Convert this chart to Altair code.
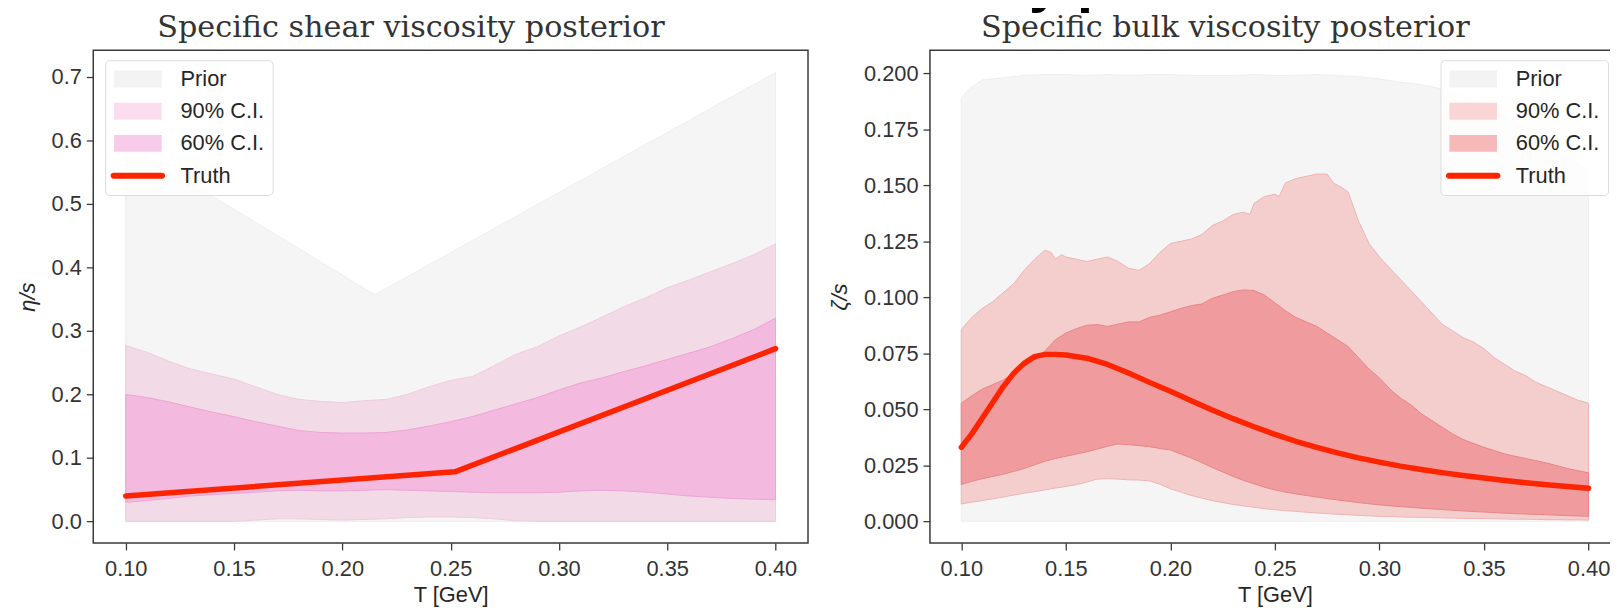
import altair as alt
import pandas as pd

# ---------------- data ----------------
LEG_LABELS = ["Prior", "90% C.I.", "60% C.I.", "Truth"]
SUPTITLE = "Viscosity posteriors"

# Left panel: specific shear viscosity
L_PRIOR_T = [0.10, 0.215, 0.40]
L_PRIOR_LO = [0.0, 0.0, 0.0]
L_PRIOR_HI = [0.595, 0.357, 0.707]

L_T = [0.10, 0.11, 0.12, 0.13, 0.14, 0.15, 0.16, 0.17, 0.18, 0.19, 0.20,
       0.21, 0.22, 0.23, 0.24, 0.25, 0.26, 0.27, 0.28, 0.29, 0.30,
       0.31, 0.32, 0.33, 0.34, 0.35, 0.36, 0.37, 0.38, 0.39, 0.40]
L90_HI = [0.277, 0.266, 0.252, 0.240, 0.232, 0.224, 0.212, 0.200, 0.192, 0.189, 0.187,
          0.190, 0.192, 0.200, 0.212, 0.222, 0.228, 0.245, 0.263, 0.275, 0.292,
          0.306, 0.322, 0.338, 0.352, 0.368, 0.380, 0.393, 0.406, 0.420, 0.437]
L90_LO = [0.0, 0.0, 0.0, 0.0, 0.0, 0.0, 0.002, 0.004, 0.004, 0.003, 0.002,
          0.003, 0.004, 0.006, 0.007, 0.007, 0.006, 0.004, 0.001, 0.0, 0.0,
          0.0, 0.0, 0.0, 0.0, 0.0, 0.0, 0.0, 0.0, 0.0, 0.0]
L60_HI = [0.200, 0.195, 0.188, 0.180, 0.172, 0.165, 0.157, 0.150, 0.143, 0.140, 0.139,
          0.139, 0.140, 0.144, 0.150, 0.157, 0.165, 0.175, 0.185, 0.195, 0.207,
          0.218, 0.226, 0.236, 0.245, 0.255, 0.265, 0.275, 0.288, 0.302, 0.320]
L60_LO = [0.030, 0.033, 0.036, 0.040, 0.042, 0.044, 0.046, 0.048, 0.049, 0.048, 0.048,
          0.049, 0.050, 0.049, 0.048, 0.047, 0.046, 0.045, 0.045, 0.045, 0.046,
          0.048, 0.049, 0.048, 0.046, 0.043, 0.040, 0.038, 0.036, 0.035, 0.034]
L_TRUTH_T = [0.10, 0.252, 0.40]
L_TRUTH = [0.040, 0.078, 0.272]

# Right panel: specific bulk viscosity
R_PRIOR_T = [0.10, 0.105, 0.11, 0.12, 0.13, 0.14, 0.15, 0.16, 0.17, 0.18, 0.19, 0.20,
             0.21, 0.22, 0.23, 0.24, 0.25, 0.26, 0.27, 0.28, 0.29, 0.30, 0.31, 0.32,
             0.33, 0.34, 0.35, 0.36, 0.37, 0.38, 0.39, 0.40]
R_PRIOR_HI = [0.189, 0.194, 0.197, 0.198, 0.199, 0.1995, 0.1995, 0.199, 0.1995, 0.199,
              0.1995, 0.1995, 0.199, 0.199, 0.199, 0.1995, 0.199, 0.199, 0.1995, 0.199,
              0.1985, 0.1975, 0.196, 0.195, 0.193, 0.190, 0.186, 0.181, 0.175, 0.169,
              0.163, 0.157]
R_PRIOR_LO = [0.0] * 32

R90_T = [0.100, 0.105, 0.110, 0.115, 0.120, 0.125, 0.130, 0.135, 0.140, 0.143, 0.145,
         0.148, 0.150, 0.155, 0.160, 0.165, 0.170, 0.175, 0.180, 0.185, 0.190, 0.195,
         0.200, 0.205, 0.210, 0.215, 0.220, 0.225, 0.230, 0.235, 0.238, 0.240, 0.245,
         0.250, 0.252, 0.255, 0.260, 0.265, 0.270, 0.275, 0.278, 0.282, 0.285, 0.290,
         0.295, 0.300, 0.305, 0.310, 0.315, 0.320, 0.325, 0.330, 0.335, 0.340, 0.345,
         0.350, 0.355, 0.360, 0.365, 0.370, 0.375, 0.380, 0.385, 0.390, 0.395, 0.400]
R90_HI = [0.0856, 0.091, 0.095, 0.098, 0.102, 0.106, 0.112, 0.117, 0.121, 0.120, 0.117,
          0.119, 0.118, 0.117, 0.116, 0.117, 0.118, 0.116, 0.113, 0.112, 0.115, 0.120,
          0.124, 0.125, 0.126, 0.128, 0.132, 0.134, 0.137, 0.138, 0.137, 0.142, 0.145,
          0.146, 0.145, 0.151, 0.153, 0.154, 0.155, 0.155, 0.151, 0.149, 0.147, 0.134,
          0.124, 0.118, 0.113, 0.108, 0.103, 0.098, 0.093, 0.088, 0.085, 0.082, 0.080,
          0.077, 0.073, 0.070, 0.067, 0.065, 0.062, 0.060, 0.058, 0.056, 0.054, 0.0527]
R90_LO = [0.0077, 0.0085, 0.0092, 0.0100, 0.0108, 0.0117, 0.0125, 0.0132, 0.0140, 0.0145, 0.0148,
          0.0152, 0.0155, 0.0163, 0.0175, 0.0188, 0.0190, 0.0188, 0.0185, 0.0184, 0.0180, 0.0165,
          0.0145, 0.0130, 0.0115, 0.0103, 0.0092, 0.0083, 0.0075, 0.0068, 0.0065, 0.0062, 0.0056,
          0.0051, 0.0050, 0.0047, 0.0044, 0.0040, 0.0037, 0.0034, 0.0032, 0.0030, 0.0029, 0.0026,
          0.0024, 0.0022, 0.0021, 0.0019, 0.0018, 0.0017, 0.0016, 0.0015, 0.0014, 0.0013, 0.0012,
          0.0012, 0.0011, 0.0010, 0.0009, 0.0009, 0.0008, 0.0007, 0.0007, 0.0006, 0.0006, 0.0005]

R60_T = [0.100, 0.105, 0.110, 0.115, 0.120, 0.125, 0.130, 0.135, 0.140, 0.145, 0.150,
         0.155, 0.160, 0.165, 0.170, 0.175, 0.180, 0.185, 0.190, 0.195, 0.200, 0.205,
         0.210, 0.215, 0.220, 0.225, 0.230, 0.235, 0.240, 0.245, 0.250, 0.255, 0.260,
         0.265, 0.270, 0.275, 0.280, 0.285, 0.290, 0.295, 0.300, 0.305, 0.310, 0.315,
         0.320, 0.325, 0.330, 0.335, 0.340, 0.350, 0.360, 0.370, 0.380, 0.390, 0.400]
R60_HI = [0.0527, 0.056, 0.059, 0.061, 0.063, 0.066, 0.069, 0.072, 0.076, 0.081, 0.084,
          0.086, 0.0875, 0.0878, 0.087, 0.088, 0.089, 0.089, 0.091, 0.092, 0.0935, 0.095,
          0.0963, 0.097, 0.0995, 0.101, 0.1025, 0.1033, 0.103, 0.101, 0.0975, 0.094, 0.091,
          0.089, 0.087, 0.084, 0.081, 0.078, 0.073, 0.068, 0.064, 0.059, 0.055, 0.052,
          0.048, 0.045, 0.042, 0.039, 0.0365, 0.033, 0.030, 0.028, 0.026, 0.0235, 0.0216]
R60_LO = [0.0164, 0.0178, 0.0190, 0.0200, 0.0210, 0.0222, 0.0235, 0.0252, 0.0268, 0.0280, 0.0290,
          0.0300, 0.0310, 0.0322, 0.0335, 0.0345, 0.0342, 0.0338, 0.0333, 0.0325, 0.0318, 0.0300,
          0.0282, 0.0262, 0.0240, 0.0220, 0.0200, 0.0182, 0.0167, 0.0152, 0.0140, 0.0130, 0.0122,
          0.0115, 0.0108, 0.0101, 0.0095, 0.0089, 0.0083, 0.0078, 0.0073, 0.0069, 0.0065, 0.0062,
          0.0058, 0.0055, 0.0052, 0.0049, 0.0046, 0.0041, 0.0036, 0.0032, 0.0029, 0.0025, 0.0022]

R_TRUTH_T = [0.100, 0.105, 0.110, 0.115, 0.120, 0.125, 0.130, 0.135, 0.140, 0.145, 0.150,
             0.160, 0.170, 0.180, 0.190, 0.200, 0.210, 0.220, 0.230, 0.240, 0.250, 0.260,
             0.270, 0.280, 0.290, 0.300, 0.310, 0.320, 0.330, 0.340, 0.350, 0.360, 0.370,
             0.380, 0.390, 0.400]
R_TRUTH = [0.033, 0.039, 0.046, 0.053, 0.060, 0.066, 0.0705, 0.0735, 0.0745, 0.0745, 0.0742,
           0.0728, 0.0700, 0.0662, 0.0620, 0.0580, 0.0538, 0.0497, 0.0458, 0.0422, 0.0388,
           0.0357, 0.0330, 0.0305, 0.0283, 0.0264, 0.0246, 0.0231, 0.0217, 0.0204, 0.0193,
           0.0182, 0.0172, 0.0163, 0.0155, 0.0147]

X_TICKS = [0.10, 0.15, 0.20, 0.25, 0.30, 0.35, 0.40]
L_Y_TICKS = [0.0, 0.1, 0.2, 0.3, 0.4, 0.5, 0.6, 0.7]
R_Y_TICKS = [0.0, 0.025, 0.05, 0.075, 0.1, 0.125, 0.15, 0.175, 0.2]

# ---------------- style ----------------
SANS = "Liberation Sans"
SERIF = "DejaVu Serif"
TRUTH_COLOR = "#ff2400"
RECT = "M-2.4,-0.85H2.4V0.85H-2.4Z"
LINE = "M-2.45,-0.3H2.45A0.3,0.3,0,0,1,2.45,0.3H-2.45A0.3,0.3,0,0,1,-2.45,-0.3Z"


def panel(title, title_dx, ytitle, ydomain, yticks, yfmt, width, prior, b90, b60, truth,
          fills, edges, legcolors, legx):
    xs = alt.Scale(domain=[0.085, 0.415], nice=False, zero=False)
    ys = alt.Scale(domain=ydomain, nice=False, zero=False)
    xax = alt.Axis(values=X_TICKS, format=".2f", title="T [GeV]")
    yax = alt.Axis(values=yticks, format=yfmt, title=ytitle)

    def band(T, lo, hi, fill, edge):
        df = pd.DataFrame({"T": T, "lo": lo, "hi": hi})
        return alt.Chart(df).mark_area(fill=fill, stroke=edge, strokeWidth=1).encode(
            x=alt.X("T:Q", scale=xs, axis=xax),
            y=alt.Y("lo:Q", scale=ys, axis=yax),
            y2="hi:Q",
        )

    layers = [
        band(*prior, fills[0], edges[0]),
        band(*b90, fills[1], edges[1]),
        band(*b60, fills[2], edges[2]),
    ]
    tdf = pd.DataFrame({"T": truth[0], "v": truth[1]})
    layers.append(alt.Chart(tdf).mark_line(color=TRUTH_COLOR, strokeWidth=5.5,
                                            strokeCap="round", strokeJoin="round").encode(
        x=alt.X("T:Q", scale=xs, axis=xax),
        y=alt.Y("v:Q", scale=ys, axis=yax),
    ))
    legend = alt.Legend(title=None, orient="none", legendX=legx, legendY=10, padding=8,
                        rowPadding=10.5, labelOffset=32, symbolOffset=14, labelFont=SANS,
                        labelFontSize=22, labelColor="#262626", symbolSize=400,
                        symbolStrokeWidth=0, symbolOpacity=1, strokeColor="#dcdcdc",
                        fillColor="rgba(255,255,255,0.8)", cornerRadius=4, labelLimit=400)
    ldf = pd.DataFrame({"band": LEG_LABELS})
    layers.append(alt.Chart(ldf).mark_point(filled=True, clip=True, opacity=1).encode(
        x=alt.value(-400), y=alt.value(-400),
        color=alt.Color("band:N", scale=alt.Scale(domain=LEG_LABELS, range=legcolors), legend=legend),
        shape=alt.Shape("band:N", scale=alt.Scale(domain=LEG_LABELS, range=[RECT, RECT, RECT, LINE]),
                        legend=legend),
    ))
    return alt.layer(*layers).properties(
        width=width, height=497,
        title=alt.Title(title, font=SERIF, fontSize=30.5, fontWeight="normal", color="#333333",
                        baseline="top", offset=7, anchor="middle", dx=title_dx),
    )


left = panel("Specific shear viscosity posterior", -40, "η/s", [-0.034, 0.742], L_Y_TICKS, ".1f", 721,
             (L_PRIOR_T, L_PRIOR_LO, L_PRIOR_HI),
             (L_T, L90_LO, L90_HI), (L_T, L60_LO, L60_HI), (L_TRUTH_T, L_TRUTH),
             ["#f5f5f5", "#f3dae7", "#f3b9df"], ["#eeeeee", "#efcbe0", "#eea3d4"],
             ["#f3f3f3", "#fcdcef", "#f8cbe8", TRUTH_COLOR], 12)

right = panel("Specific bulk viscosity posterior", -50, "ζ/s", [-0.0097, 0.2103], R_Y_TICKS, ".3f", 696,
              (R_PRIOR_T, R_PRIOR_LO, R_PRIOR_HI),
              (R90_T, R90_LO, R90_HI), (R60_T, R60_LO, R60_HI), (R_TRUTH_T, R_TRUTH),
              ["#f5f5f5", "#f4cdcd", "#f09b9d"], ["#eeeeee", "#eeb3b3", "#e98588"],
              ["#f3f3f3", "#f9d5d5", "#f6b9ba", TRUTH_COLOR], 515)

# figure-level bold title: the picture's top edge cuts all but its descenders
chart = alt.hconcat(left, right, spacing=19).resolve_scale(
    color="independent", shape="independent"
).resolve_legend(color="independent", shape="independent").properties(
    title=alt.Title(SUPTITLE, font=SANS, fontSize=58, fontWeight="bold", color="#000000",
                    baseline="top", anchor="middle", offset=-1, dx=268),
    padding={"left": 7, "top": -56, "right": -11, "bottom": 0},
).configure_view(stroke="#3a3a3a", strokeWidth=1.5).configure_axis(
    domain=False, grid=False, ticks=True, tickColor="#3a3a3a", tickSize=7, tickWidth=1.3,
    labelFont=SANS, labelFontSize=22, labelColor="#333333",
    titleFont=SANS, titleFontSize=22, titleColor="#262626", titleFontWeight="normal",
).configure_axisX(titlePadding=5, labelPadding=9).configure_axisY(
    titlePadding=12, titleFontStyle="italic", labelPadding=5
)

chart.save("out.html", embed_options={"renderer": "svg", "actions": False})
